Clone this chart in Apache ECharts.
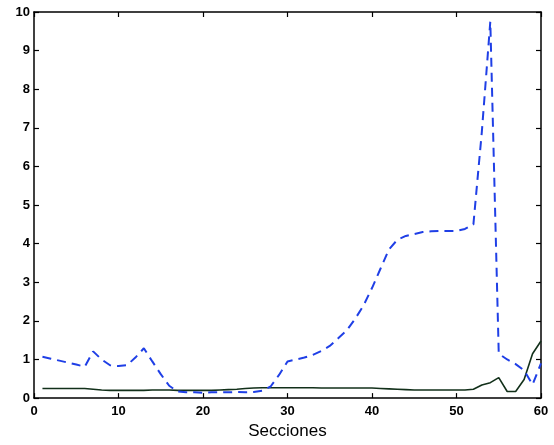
<!DOCTYPE html>
<html>
<head>
<meta charset="utf-8">
<script src="https://cdn.jsdelivr.net/npm/echarts@6/dist/echarts.min.js"></script>
<style>
  html,body{margin:0;padding:0;background:#fff;}
  #chart{width:554px;height:445px;}
</style>
</head>
<body>
<div id="chart"></div>
<script>
// secciones 1..60
var secciones = [1,2,3,4,5,6,7,8,9,10,11,12,13,14,15,16,17,18,19,20,
  21,22,23,24,25,26,27,28,29,30,31,32,33,34,35,36,37,38,39,40,
  41,42,43,44,45,46,47,48,49,50,51,52,53,54,55,56,57,58,59,60];

// curva discontinua (azul)
var serieA = [1.07,1.02,0.97,0.92,0.87,0.81,1.21,1.0,0.85,0.83,
  0.85,1.05,1.29,0.95,0.62,0.32,0.17,0.15,0.15,0.14,
  0.15,0.15,0.15,0.16,0.15,0.16,0.19,0.3,0.6,0.95,
  1.0,1.05,1.12,1.22,1.35,1.55,1.75,2.05,2.4,2.85,
  3.35,3.85,4.1,4.2,4.25,4.3,4.32,4.33,4.33,4.33,
  4.38,4.5,6.9,9.75,1.15,1.0,0.88,0.72,0.35,0.9];

// curva continua (negra)
var serieB = [0.25,0.25,0.25,0.25,0.25,0.25,0.23,0.21,0.2,0.2,
  0.2,0.2,0.2,0.21,0.21,0.21,0.2,0.2,0.2,0.2,
  0.2,0.21,0.22,0.23,0.25,0.26,0.27,0.27,0.27,0.27,
  0.27,0.27,0.27,0.26,0.26,0.26,0.26,0.26,0.26,0.26,
  0.25,0.24,0.23,0.22,0.21,0.21,0.21,0.21,0.21,0.21,
  0.21,0.23,0.34,0.4,0.53,0.17,0.17,0.48,1.15,1.48];

var xTicks = [0,10,20,30,40,50,60];
var yTicks = [0,1,2,3,4,5,6,7,8,9,10];

function pares(xs, ys){
  return xs.map(function(x,i){ return [x, ys[i]]; });
}

var labelStyle = {color:'#000', fontSize:13, fontWeight:'bold', fontFamily:'Liberation Sans, Arial, sans-serif'};
var lineAx = {show:true, onZero:false, lineStyle:{color:'#000', width:1.5}};
var tickIn = {show:true, inside:true, length:5, lineStyle:{color:'#000', width:1.2}};

var chart = echarts.init(document.getElementById('chart'));
chart.setOption({
  animation:false,
  backgroundColor:'#fff',
  grid:{left:34, right:13, top:12, bottom:40},
  xAxis:[{
    type:'value', min:xTicks[0], max:xTicks[xTicks.length-1], interval:10,
    position:'bottom',
    axisLine:lineAx, axisTick:tickIn, splitLine:{show:false},
    axisLabel:Object.assign({margin:7}, labelStyle),
    name:'Secciones', nameLocation:'middle', nameGap:24,
    nameTextStyle:{color:'#000', fontSize:17, fontFamily:'Liberation Sans, Arial, sans-serif'}
  },{
    type:'value', min:0, max:60, interval:10, position:'top',
    axisLine:lineAx, axisTick:tickIn, axisLabel:{show:false}, splitLine:{show:false}
  }],
  yAxis:[{
    type:'value', min:yTicks[0], max:yTicks[yTicks.length-1], interval:1,
    position:'left',
    axisLine:lineAx, axisTick:tickIn, splitLine:{show:false},
    axisLabel:Object.assign({margin:4}, labelStyle)
  },{
    type:'value', min:0, max:10, interval:1, position:'right',
    axisLine:lineAx, axisTick:tickIn, axisLabel:{show:false}, splitLine:{show:false}
  }],
  series:[{
    type:'line', data:pares(secciones, serieB), showSymbol:false,
    lineStyle:{color:'#12301a', width:1.6}, z:2
  },{
    type:'line', data:pares(secciones, serieA), showSymbol:false,
    lineStyle:{color:'#1f3fe6', width:2, type:[9,6]}, z:3
  }]
});
</script>
</body>
</html>
